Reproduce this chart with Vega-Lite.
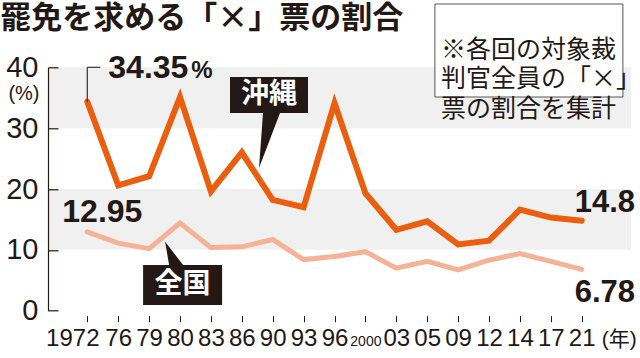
{
  "$schema": "https://vega.github.io/schema/vega-lite/v6.json",
  "width": 583,
  "height": 243.4,
  "autosize": {"type": "none"},
  "padding": {"left": 48, "top": 67.3, "right": 9, "bottom": 47.3},
  "background": "white",
  "config": {"view": {"stroke": null}, "font": "Liberation Sans"},
  "resolve": {"axis": {"y": "independent"}},
  "datasets": {
    "series": [
      {"year": "1972", "region": "沖縄", "value": 34.35},
      {"year": "76", "region": "沖縄", "value": 20.6},
      {"year": "79", "region": "沖縄", "value": 22.1},
      {"year": "80", "region": "沖縄", "value": 35.1},
      {"year": "83", "region": "沖縄", "value": 19.6},
      {"year": "86", "region": "沖縄", "value": 26.0},
      {"year": "90", "region": "沖縄", "value": 18.2},
      {"year": "93", "region": "沖縄", "value": 17.0},
      {"year": "96", "region": "沖縄", "value": 34.1},
      {"year": "2000", "region": "沖縄", "value": 19.3},
      {"year": "03", "region": "沖縄", "value": 13.3},
      {"year": "05", "region": "沖縄", "value": 14.7},
      {"year": "09", "region": "沖縄", "value": 10.9},
      {"year": "12", "region": "沖縄", "value": 11.5},
      {"year": "14", "region": "沖縄", "value": 16.6},
      {"year": "17", "region": "沖縄", "value": 15.3},
      {"year": "21", "region": "沖縄", "value": 14.8},
      {"year": "1972", "region": "全国", "value": 12.95},
      {"year": "76", "region": "全国", "value": 11.1},
      {"year": "79", "region": "全国", "value": 10.2},
      {"year": "80", "region": "全国", "value": 14.4},
      {"year": "83", "region": "全国", "value": 10.4},
      {"year": "86", "region": "全国", "value": 10.5},
      {"year": "90", "region": "全国", "value": 11.7},
      {"year": "93", "region": "全国", "value": 8.4},
      {"year": "96", "region": "全国", "value": 8.9},
      {"year": "2000", "region": "全国", "value": 9.7},
      {"year": "03", "region": "全国", "value": 7.0},
      {"year": "05", "region": "全国", "value": 8.1},
      {"year": "09", "region": "全国", "value": 6.7},
      {"year": "12", "region": "全国", "value": 8.3},
      {"year": "14", "region": "全国", "value": 9.4},
      {"year": "17", "region": "全国", "value": 8.1},
      {"year": "21", "region": "全国", "value": 6.78}
    ],
    "bands": [{"lo": 10, "hi": 20}, {"lo": 30, "hi": 40}]
  },
  "layer": [
    {
      "data": {"name": "bands"},
      "mark": {"type": "rect", "fill": "#f0f0f0"},
      "encoding": {
        "y": {
          "field": "lo", "type": "quantitative",
          "scale": {"domain": [0, 40], "nice": false, "zero": false},
          "axis": {
            "title": "(%)", "titleAngle": 0, "titleAlign": "right", "titleBaseline": "middle",
            "titleX": -9, "titleY": 25.7, "titleFont": "Liberation Sans", "titleFontSize": 20,
            "titleFontWeight": "normal", "titleColor": "#231815",
            "values": [0, 10, 20, 30, 40], "grid": false, "zindex": 1,
            "domain": true, "domainColor": "#231815", "domainWidth": 1.2,
            "ticks": false,
            "labelPadding": 10, "labelFont": "Liberation Sans", "labelFontSize": 29,
            "labelColor": "#231815", "labelBaseline": "middle", "labelFlush": false
          }
        },
        "y2": {"field": "hi"}
      }
    },
    {
      "data": {"name": "series"},
      "mark": {"type": "line", "strokeCap": "round", "strokeJoin": "miter"},
      "encoding": {
        "x": {
          "field": "year", "type": "ordinal",
          "sort": ["1972", "76", "79", "80", "83", "86", "90", "93", "96", "2000", "03", "05", "09", "12", "14", "17", "21"],
          "scale": {
            "type": "point",
            "domain": ["1972", "76", "79", "80", "83", "86", "90", "93", "96", "2000", "03", "05", "09", "12", "14", "17", "21"],
            "range": [39.3, 533.7], "padding": 0
          },
          "axis": {
            "title": null, "domain": false, "offset": 5, "tickSize": 6, "tickColor": "#231815", "tickWidth": 1,
            "labelFont": "Liberation Sans",
            "labelFontSize": {"condition": {"test": "datum.value === '2000'", "value": 14}, "value": 24},
            "labelOffset": {"condition": {"test": "datum.value === '1972'", "value": -15}, "value": 0},
            "labelColor": "#231815", "labelPadding": 24, "labelAngle": 0, "labelBaseline": "alphabetic",
            "labelOverlap": false
          }
        },
        "y": {
          "field": "value", "type": "quantitative",
          "axis": {
            "orient": "right", "offset": -583, "title": null, "labels": false, "domain": false, "grid": false,
            "values": [0, 10, 20, 30, 40], "ticks": true, "tickSize": 10, "tickColor": "#231815", "tickWidth": 1.2,
            "zindex": 1
          }
        },
        "color": {
          "field": "region", "type": "nominal",
          "scale": {"domain": ["沖縄", "全国"], "range": ["#ea5e0d", "#f5b297"]},
          "legend": null
        },
        "strokeWidth": {
          "field": "region", "type": "nominal",
          "scale": {"domain": ["沖縄", "全国"], "range": [6, 5]},
          "legend": null
        }
      }
    },
    {
      "data": {"values": [{"year": "14", "value": 42.76}]},
      "mark": {"type": "point", "filled": true, "size": 4, "opacity": 1, "fill": "white", "stroke": "#555555",
               "strokeWidth": 1, "strokeOpacity": 1, "shape": "M-85,-46.5H103V46.5H-85Z"},
      "encoding": {
        "x": {"field": "year", "type": "ordinal"},
        "y": {"field": "value", "type": "quantitative", "axis": null}
      }
    },
    {
      "data": {"values": [{"year": "14", "value": 42.92, "note": "※各回の対象裁\n判官全員の「×」\n票の割合を集計"}]},
      "mark": {"type": "text", "align": "left", "baseline": "middle", "dx": -79, "lineBreak": "\n", "lineHeight": 29.5,
               "font": "Noto Sans CJK JP", "fontSize": 25, "color": "#231815"},
      "encoding": {
        "x": {"field": "year", "type": "ordinal"},
        "y": {"field": "value", "type": "quantitative", "axis": null},
        "text": {"field": "note"}
      }
    },
    {
      "data": {"values": [{"year": "1972", "value": 47.9, "label": "罷免を求める「×」票の割合"}]},
      "mark": {"type": "text", "align": "left", "baseline": "middle", "dx": -87, "font": "Noto Sans CJK JP",
               "fontSize": 31, "fontWeight": "bold", "color": "#231815"},
      "encoding": {
        "x": {"field": "year", "type": "ordinal"},
        "y": {"field": "value", "type": "quantitative", "axis": null},
        "text": {"field": "label"}
      }
    },
    {
      "data": {"values": [{"year": "1972", "value": 34.35, "top": 40}]},
      "mark": {"type": "rule", "color": "#333333", "strokeWidth": 1.2},
      "encoding": {
        "x": {"field": "year", "type": "ordinal"},
        "y": {"field": "value", "type": "quantitative", "axis": null},
        "y2": {"field": "top"}
      }
    },
    {
      "data": {"values": [{"year": "1972", "top": 40}]},
      "mark": {"type": "rule", "color": "#333333", "strokeWidth": 1.2, "x2Offset": 13},
      "encoding": {
        "x": {"field": "year", "type": "ordinal"},
        "x2": {"field": "year"},
        "y": {"field": "top", "type": "quantitative", "axis": null}
      }
    },
    {
      "data": {"values": [{"year": "90", "value": 35.45, "label": "沖縄"}]},
      "mark": {"type": "point", "filled": true, "size": 4, "opacity": 1, "fill": "#231815", "strokeWidth": 0,
               "shape": "M-42.7,-18H35.3V18H7.3L-13.7,73L-9.7,18H-42.7Z"},
      "encoding": {
        "x": {"field": "year", "type": "ordinal"},
        "y": {"field": "value", "type": "quantitative", "axis": null}
      }
    },
    {
      "data": {"values": [{"year": "90", "value": 35.45, "label": "沖縄"}]},
      "mark": {"type": "text", "align": "center", "baseline": "middle", "dx": -3.7, "font": "Noto Sans CJK JP",
               "fontSize": 28, "fontWeight": "bold", "color": "white"},
      "encoding": {
        "x": {"field": "year", "type": "ordinal"},
        "y": {"field": "value", "type": "quantitative", "axis": null},
        "text": {"field": "label"}
      }
    },
    {
      "data": {"values": [{"year": "80", "value": 4.22, "label": "全国"}]},
      "mark": {"type": "point", "filled": true, "size": 4, "opacity": 1, "fill": "#231815", "strokeWidth": 0,
               "shape": "M-36.9,-20H-10.9L-14.9,-43.3L3.1,-20H42.1V20H-36.9Z"},
      "encoding": {
        "x": {"field": "year", "type": "ordinal"},
        "y": {"field": "value", "type": "quantitative", "axis": null}
      }
    },
    {
      "data": {"values": [{"year": "80", "value": 4.22, "label": "全国"}]},
      "mark": {"type": "text", "align": "center", "baseline": "middle", "dx": 2.6, "font": "Noto Sans CJK JP",
               "fontSize": 28, "fontWeight": "bold", "color": "white"},
      "encoding": {
        "x": {"field": "year", "type": "ordinal"},
        "y": {"field": "value", "type": "quantitative", "axis": null},
        "text": {"field": "label"}
      }
    },
    {
      "data": {"values": [{"year": "1972", "value": 38.24, "label": "34.35"}]},
      "mark": {"type": "text", "align": "left", "baseline": "alphabetic", "dx": 21, "font": "Liberation Sans",
               "fontSize": 32, "fontWeight": "bold", "color": "#231815"},
      "encoding": {
        "x": {"field": "year", "type": "ordinal"},
        "y": {"field": "value", "type": "quantitative", "axis": null},
        "text": {"field": "label"}
      }
    },
    {
      "data": {"values": [{"year": "1972", "value": 38.24, "label": "%"}]},
      "mark": {"type": "text", "align": "left", "baseline": "alphabetic", "dx": 104, "font": "Liberation Sans",
               "fontSize": 24, "fontWeight": "bold", "color": "#231815"},
      "encoding": {
        "x": {"field": "year", "type": "ordinal"},
        "y": {"field": "value", "type": "quantitative", "axis": null},
        "text": {"field": "label"}
      }
    },
    {
      "data": {"values": [{"year": "1972", "value": 14.58, "label": "12.95"}]},
      "mark": {"type": "text", "align": "left", "baseline": "alphabetic", "dx": -25, "font": "Liberation Sans",
               "fontSize": 32, "fontWeight": "bold", "color": "#231815"},
      "encoding": {
        "x": {"field": "year", "type": "ordinal"},
        "y": {"field": "value", "type": "quantitative", "axis": null},
        "text": {"field": "label"}
      }
    },
    {
      "data": {"values": [{"year": "21", "value": 16.27, "label": "14.8"}, {"year": "21", "value": 1.48, "label": "6.78"}]},
      "mark": {"type": "text", "align": "left", "baseline": "alphabetic", "dx": -7, "font": "Liberation Sans",
               "fontSize": 31, "fontWeight": "bold", "color": "#231815"},
      "encoding": {
        "x": {"field": "year", "type": "ordinal"},
        "y": {"field": "value", "type": "quantitative", "axis": null},
        "text": {"field": "label"}
      }
    },
    {
      "data": {"values": [{"year": "21", "value": -4.8, "label": "(年)"}]},
      "mark": {"type": "text", "align": "left", "baseline": "middle", "dx": 20,
               "font": "Liberation Sans, Noto Sans CJK JP", "fontSize": 21, "color": "#231815"},
      "encoding": {
        "x": {"field": "year", "type": "ordinal"},
        "y": {"field": "value", "type": "quantitative", "axis": null},
        "text": {"field": "label"}
      }
    }
  ]
}
